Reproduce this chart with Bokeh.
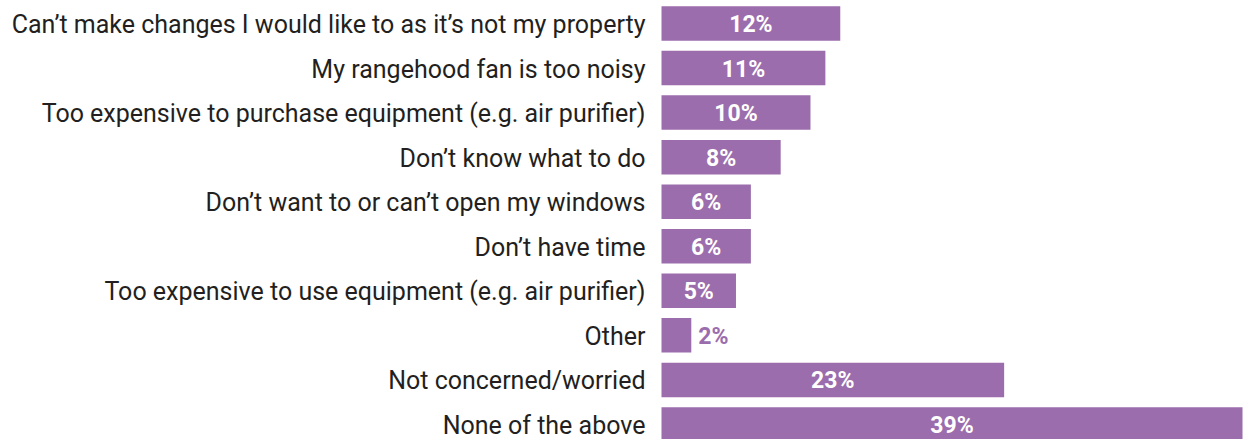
from bokeh.plotting import figure
from bokeh.models import Range1d, ColumnDataSource
from bokeh.core.properties import value
from bokeh.embed import file_html
from bokeh.resources import INLINE

categories = [
    "Can\u2019t make changes I would like to as it\u2019s not my property",
    "My rangehood fan is too noisy",
    "Too expensive to purchase equipment (e.g. air purifier)",
    "Don\u2019t know what to do",
    "Don\u2019t want to or can\u2019t open my windows",
    "Don\u2019t have time",
    "Too expensive to use equipment (e.g. air purifier)",
    "Other",
    "Not concerned/worried",
    "None of the above",
]
values = [12, 11, 10, 8, 6, 6, 5, 2, 23, 39]
value_labels = [f"{v}%" for v in values]

W, H = 1243, 439
x0_px = 661.0
px_per_unit = (1242.0 - x0_px) / 39.0
row0_px = 23.0
row_pitch = 44.55

idx = list(range(len(categories)))
BAR = "#9b6dad"

p = figure(width=W, height=H, output_backend="svg", toolbar_location=None,
           x_range=Range1d(-x0_px / px_per_unit, (W - x0_px) / px_per_unit),
           y_range=Range1d((H - row0_px) / row_pitch, -row0_px / row_pitch),
           min_border=0, min_border_left=0, min_border_right=0,
           min_border_top=0, min_border_bottom=0)
p.axis.visible = False
p.grid.visible = False
p.outline_line_color = None
p.background_fill_color = "white"
p.border_fill_color = "white"

src = ColumnDataSource(dict(y=idx, v=values, cat=categories, lab=value_labels))
p.hbar(y="y", left=0, right="v", height=34.5 / row_pitch, source=src,
       fill_color=BAR, line_color=None)

p.text(x=0, y="y", text="cat", source=src, x_offset=-16, text_align="right",
       text_baseline="middle", text_font=value("Roboto"), text_font_size="25px",
       text_color="#231f20", y_offset=1)

inside = [i for i, v in enumerate(values) if v >= 5]
outside = [i for i, v in enumerate(values) if v < 5]
src_in = ColumnDataSource(dict(y=[idx[i] for i in inside], x=[values[i] / 2 for i in inside],
                               lab=[value_labels[i] for i in inside]))
src_out = ColumnDataSource(dict(y=[idx[i] for i in outside], x=[values[i] for i in outside],
                                lab=[value_labels[i] for i in outside]))
p.text(x="x", y="y", text="lab", source=src_in, text_align="center", text_baseline="middle",
       text_font=value("Roboto"), text_font_style="bold", text_font_size="23px",
       text_color="white", y_offset=1)
p.text(x="x", y="y", text="lab", source=src_out, x_offset=7, text_align="left",
       text_baseline="middle", text_font=value("Roboto"), text_font_style="bold",
       text_font_size="23px", text_color=BAR, y_offset=1)

open("out.html", "w").write(file_html(p, INLINE))
